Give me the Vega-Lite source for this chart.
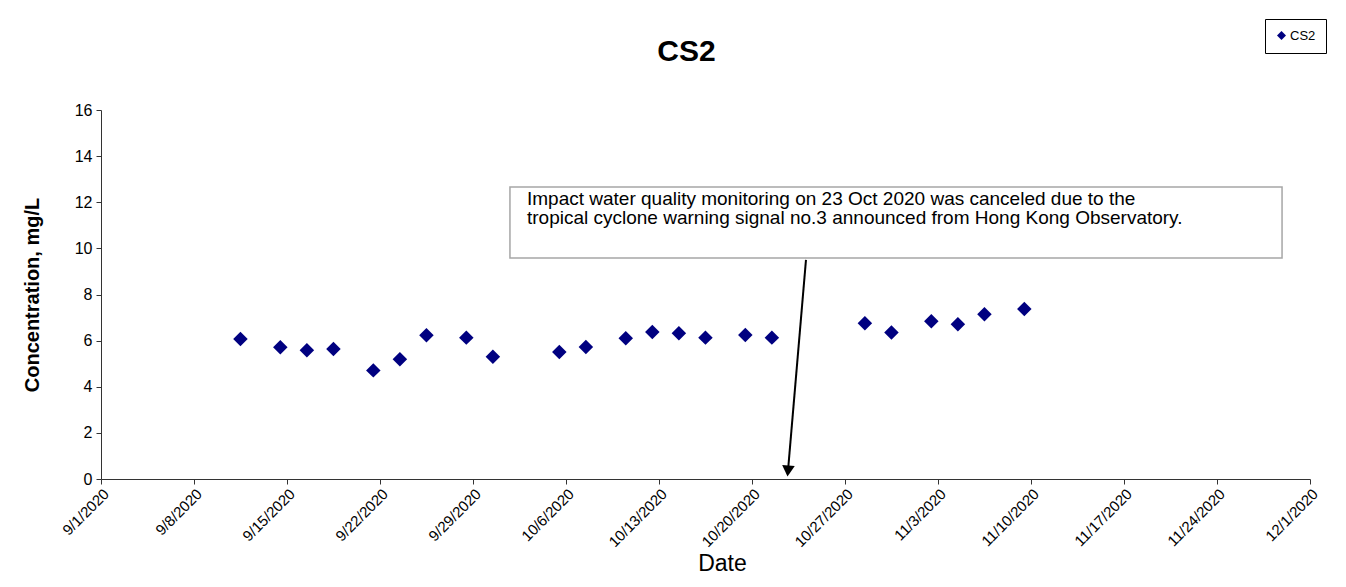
{
  "$schema": "https://vega.github.io/schema/vega-lite/v6.json",
  "autosize": {"type": "none"},
  "width": 1209,
  "height": 369,
  "padding": {"left": 101, "top": 110, "right": 36, "bottom": 108},
  "background": "white",
  "config": {
    "font": "Liberation Sans",
    "view": {"stroke": null},
    "axis": {"domainColor": "#333333", "tickColor": "#333333", "labelColor": "black", "titleColor": "black", "grid": false}
  },
  "title": {"text": "CS2", "fontSize": 30, "fontWeight": "bold", "font": "Liberation Sans", "anchor": "middle", "dx": -19, "offset": 0, "baseline": "alphabetic", "dy": 72, "color": "black"},
  "datasets": {
    "cs2": [
      {"Date": "2020-09-11", "Concentration": 6.07, "Station": "CS2"},
      {"Date": "2020-09-14", "Concentration": 5.71, "Station": "CS2"},
      {"Date": "2020-09-16", "Concentration": 5.58, "Station": "CS2"},
      {"Date": "2020-09-18", "Concentration": 5.64, "Station": "CS2"},
      {"Date": "2020-09-21", "Concentration": 4.71, "Station": "CS2"},
      {"Date": "2020-09-23", "Concentration": 5.19, "Station": "CS2"},
      {"Date": "2020-09-25", "Concentration": 6.23, "Station": "CS2"},
      {"Date": "2020-09-28", "Concentration": 6.13, "Station": "CS2"},
      {"Date": "2020-09-30", "Concentration": 5.30, "Station": "CS2"},
      {"Date": "2020-10-05", "Concentration": 5.51, "Station": "CS2"},
      {"Date": "2020-10-07", "Concentration": 5.72, "Station": "CS2"},
      {"Date": "2020-10-10", "Concentration": 6.10, "Station": "CS2"},
      {"Date": "2020-10-12", "Concentration": 6.37, "Station": "CS2"},
      {"Date": "2020-10-14", "Concentration": 6.32, "Station": "CS2"},
      {"Date": "2020-10-16", "Concentration": 6.13, "Station": "CS2"},
      {"Date": "2020-10-19", "Concentration": 6.24, "Station": "CS2"},
      {"Date": "2020-10-21", "Concentration": 6.13, "Station": "CS2"},
      {"Date": "2020-10-28", "Concentration": 6.75, "Station": "CS2"},
      {"Date": "2020-10-30", "Concentration": 6.35, "Station": "CS2"},
      {"Date": "2020-11-02", "Concentration": 6.84, "Station": "CS2"},
      {"Date": "2020-11-04", "Concentration": 6.71, "Station": "CS2"},
      {"Date": "2020-11-06", "Concentration": 7.14, "Station": "CS2"},
      {"Date": "2020-11-09", "Concentration": 7.37, "Station": "CS2"}
    ],
    "note": [
      {"boxStart": "2020-10-01T18:45", "boxEnd": "2020-11-28T21:30", "boxTop": 12.66, "boxBottom": 9.58,
       "textAt": "2020-10-03T01:30", "textTop": 12.55,
       "label": ["Impact water quality monitoring on 23 Oct 2020 was canceled due to the", "tropical cyclone warning signal no.3 announced from Hong Kong Observatory."],
       "arrowFrom": "2020-10-24T01:30", "arrowFromY": 9.5, "arrowTo": "2020-10-22T17:00", "arrowToY": 0.35}
    ]
  },
  "layer": [
    {
      "data": {"name": "note"},
      "mark": {"type": "rect", "fill": "white", "stroke": "#a6a6a6", "strokeWidth": 1.5},
      "encoding": {
        "x": {"field": "boxStart", "type": "temporal"},
        "x2": {"field": "boxEnd"},
        "y": {"field": "boxTop", "type": "quantitative"},
        "y2": {"field": "boxBottom"}
      }
    },
    {
      "data": {"name": "note"},
      "mark": {"type": "text", "align": "left", "baseline": "top", "fontSize": 19, "lineHeight": 19.5, "font": "Liberation Sans", "color": "black"},
      "encoding": {
        "x": {"field": "textAt", "type": "temporal"},
        "y": {"field": "textTop", "type": "quantitative"},
        "text": {"field": "label"}
      }
    },
    {
      "data": {"name": "note"},
      "mark": {"type": "rule", "color": "black", "strokeWidth": 2},
      "encoding": {
        "x": {"field": "arrowFrom", "type": "temporal"},
        "y": {"field": "arrowFromY", "type": "quantitative"},
        "x2": {"field": "arrowTo"},
        "y2": {"field": "arrowToY"}
      }
    },
    {
      "data": {"name": "note"},
      "mark": {"type": "point", "shape": "triangle-down", "filled": true, "color": "black", "size": 160, "opacity": 1, "angle": 5},
      "encoding": {
        "x": {"field": "arrowTo", "type": "temporal"},
        "y": {"field": "arrowToY", "type": "quantitative"}
      }
    },
    {
      "data": {"name": "cs2"},
      "mark": {"type": "point", "shape": "diamond", "filled": true, "size": 210, "opacity": 1, "xOffset": 6.6},
      "encoding": {
        "x": {
          "field": "Date", "type": "temporal",
          "scale": {"domain": ["2020-09-01T00:00", "2020-12-01T00:00"]},
          "axis": {
            "title": "Date", "titleFontSize": 23, "titleFontWeight": "normal", "titlePadding": 3, "titleX": 621,
            "values": ["2020-09-01T00:00", "2020-09-08T00:00", "2020-09-15T00:00", "2020-09-22T00:00", "2020-09-29T00:00", "2020-10-06T00:00", "2020-10-13T00:00", "2020-10-20T00:00", "2020-10-27T00:00", "2020-11-03T00:00", "2020-11-10T00:00", "2020-11-17T00:00", "2020-11-24T00:00", "2020-12-01T00:00"],
            "format": "%-m/%-d/%Y", "labelAngle": -45, "labelFontSize": 15, "labelPadding": 2, "tickSize": 5, "labelOverlap": false, "labelBound": false, "labelFlush": false
          }
        },
        "y": {
          "field": "Concentration", "type": "quantitative",
          "scale": {"domain": [0, 16]},
          "axis": {"title": "Concentration, mg/L", "titleFontSize": 20, "titleFontWeight": "bold", "titlePadding": 32, "values": [0, 2, 4, 6, 8, 10, 12, 14, 16], "labelFontSize": 16, "tickSize": 5, "labelPadding": 4}
        },
        "color": {
          "field": "Station", "type": "nominal",
          "scale": {"range": ["#000080"]},
          "legend": {"title": null, "orient": "none", "legendX": 1164, "legendY": -91, "strokeColor": "black", "padding": 10, "labelFontSize": 13, "symbolSize": 80, "symbolType": "diamond", "fillColor": "white", "labelOffset": 2}
        }
      }
    }
  ]
}
